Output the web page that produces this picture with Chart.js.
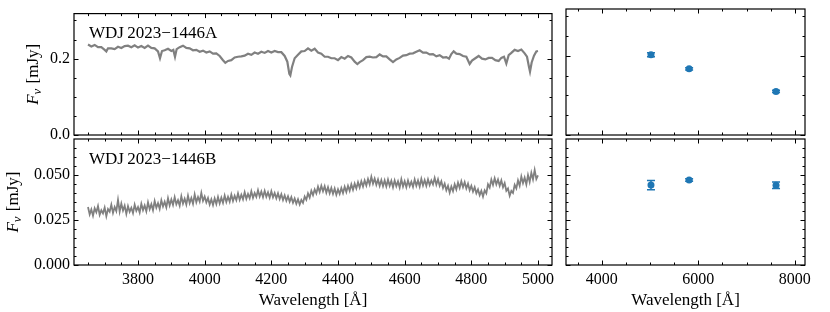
<!DOCTYPE html>
<html>
<head>
<meta charset="utf-8">
<script src="https://cdn.jsdelivr.net/npm/chart.js@4"></script>
<style>
  html, body { margin: 0; padding: 0; background: #fff; }
  #wrap { position: relative; width: 830px; height: 312px; }
  #wrap canvas { position: absolute; left: 0; top: 0; }
</style>
</head>
<body>
<div id="wrap">
  <canvas id="specA" width="830" height="312"></canvas>
  <canvas id="photA" width="830" height="312"></canvas>
  <canvas id="specB" width="830" height="312"></canvas>
  <canvas id="photB" width="830" height="312"></canvas>
</div>
<script>
// spectrum of component A (wavelength in Angstrom, flux in mJy)
const waveA = [3650, 3660, 3670, 3680, 3690, 3700, 3705, 3710, 3720, 3730, 3740, 3750, 3760, 3770, 3780, 3790,
  3800, 3810, 3820, 3830, 3840, 3850, 3860, 3866, 3872, 3880, 3890, 3900, 3906, 3911, 3916, 3925, 3935, 3945,
  3955, 3965, 3975, 3985, 3995, 4005, 4015, 4025, 4035, 4045, 4055, 4062, 4070, 4080, 4090, 4100, 4110, 4120,
  4130, 4140, 4150, 4160, 4170, 4180, 4190, 4200, 4210, 4220, 4230, 4240, 4248, 4254, 4257, 4262, 4270, 4280,
  4290, 4300, 4310, 4320, 4330, 4340, 4350, 4360, 4370, 4380, 4390, 4400, 4410, 4420, 4430, 4440, 4450, 4458,
  4465, 4475, 4485, 4495, 4505, 4515, 4525, 4535, 4545, 4555, 4565, 4575, 4585, 4595, 4605, 4615, 4625, 4635,
  4645, 4655, 4665, 4675, 4685, 4695, 4705, 4715, 4725, 4733, 4740, 4747, 4755, 4765, 4775, 4785, 4795, 4802,
  4812, 4822, 4832, 4842, 4852, 4862, 4872, 4882, 4890, 4898, 4905, 4912, 4920, 4930, 4940, 4950, 4960, 4967,
  4973, 4976, 4981, 4988, 4995, 5000];
const fluxA = [0.237, 0.232, 0.236, 0.230, 0.230, 0.223, 0.219, 0.227, 0.227, 0.225, 0.231, 0.228, 0.233, 0.234, 0.230, 0.235,
  0.229, 0.233, 0.228, 0.234, 0.228, 0.227, 0.219, 0.201, 0.220, 0.222, 0.226, 0.220, 0.223, 0.205, 0.225, 0.230, 0.234, 0.228,
  0.227, 0.222, 0.223, 0.218, 0.221, 0.216, 0.219, 0.213, 0.214, 0.207, 0.196, 0.189, 0.194, 0.196, 0.203, 0.205, 0.206, 0.208,
  0.213, 0.210, 0.216, 0.213, 0.218, 0.215, 0.220, 0.216, 0.220, 0.217, 0.217, 0.207, 0.192, 0.160, 0.156, 0.178, 0.201, 0.210,
  0.219, 0.220, 0.227, 0.221, 0.226, 0.216, 0.213, 0.205, 0.205, 0.201, 0.201, 0.196, 0.204, 0.200, 0.207, 0.203, 0.192, 0.186,
  0.191, 0.196, 0.204, 0.205, 0.203, 0.204, 0.211, 0.206, 0.206, 0.198, 0.191, 0.198, 0.202, 0.208, 0.209, 0.213, 0.214, 0.218,
  0.222, 0.216, 0.216, 0.211, 0.212, 0.206, 0.209, 0.203, 0.204, 0.200, 0.212, 0.219, 0.213, 0.212, 0.207, 0.205, 0.186, 0.195,
  0.201, 0.207, 0.200, 0.198, 0.202, 0.202, 0.196, 0.194, 0.202, 0.205, 0.187, 0.209, 0.215, 0.223, 0.220, 0.224, 0.214, 0.205,
  0.178, 0.166, 0.190, 0.208, 0.219, 0.220];

// spectrum of component B
const waveB = [3650, 3655, 3660, 3665, 3670, 3675, 3680, 3685, 3690, 3695, 3700, 3705, 3710, 3715, 3720, 3725,
  3730, 3735, 3740, 3745, 3750, 3755, 3760, 3765, 3770, 3775, 3780, 3785, 3790, 3795, 3800, 3805, 3810, 3815,
  3820, 3825, 3830, 3835, 3840, 3845, 3850, 3855, 3860, 3865, 3870, 3875, 3880, 3885, 3890, 3895, 3900, 3905,
  3910, 3915, 3920, 3925, 3930, 3935, 3940, 3945, 3950, 3955, 3960, 3965, 3970, 3975, 3980, 3985, 3990, 3995,
  4000, 4005, 4010, 4015, 4020, 4025, 4030, 4035, 4040, 4045, 4050, 4055, 4060, 4065, 4070, 4075, 4080, 4085,
  4090, 4095, 4100, 4105, 4110, 4115, 4120, 4125, 4130, 4135, 4140, 4145, 4150, 4155, 4160, 4165, 4170, 4175,
  4180, 4185, 4190, 4195, 4200, 4205, 4210, 4215, 4220, 4225, 4230, 4235, 4240, 4245, 4250, 4255, 4260, 4265,
  4270, 4275, 4280, 4285, 4290, 4295, 4300, 4305, 4310, 4315, 4320, 4325, 4330, 4335, 4340, 4345, 4350, 4355,
  4360, 4365, 4370, 4375, 4380, 4385, 4390, 4395, 4400, 4405, 4410, 4415, 4420, 4425, 4430, 4435, 4440, 4445,
  4450, 4455, 4460, 4465, 4470, 4475, 4480, 4485, 4490, 4495, 4500, 4505, 4510, 4515, 4520, 4525, 4530, 4535,
  4540, 4545, 4550, 4555, 4560, 4565, 4570, 4575, 4580, 4585, 4590, 4595, 4600, 4605, 4610, 4615, 4620, 4625,
  4630, 4635, 4640, 4645, 4650, 4655, 4660, 4665, 4670, 4675, 4680, 4685, 4690, 4695, 4700, 4705, 4710, 4715,
  4720, 4725, 4730, 4735, 4740, 4745, 4750, 4755, 4760, 4765, 4770, 4775, 4780, 4785, 4790, 4795, 4800, 4805,
  4810, 4815, 4820, 4825, 4830, 4835, 4840, 4845, 4850, 4855, 4860, 4865, 4870, 4875, 4880, 4885, 4890, 4895,
  4900, 4905, 4910, 4915, 4920, 4925, 4930, 4935, 4940, 4945, 4950, 4955, 4960, 4965, 4970, 4975, 4980, 4985,
  4990, 4995, 5000];
const fluxB = [0.0322, 0.0281, 0.0309, 0.0274, 0.0315, 0.0293, 0.0328, 0.0279, 0.0304, 0.0287, 0.0319, 0.0271, 0.0311, 0.0296, 0.0335, 0.0289,
  0.0322, 0.0299, 0.0362, 0.0297, 0.0341, 0.0303, 0.0330, 0.0284, 0.0327, 0.0296, 0.0318, 0.0288, 0.0335, 0.0301, 0.0322, 0.0292, 0.0340, 0.0305,
  0.0331, 0.0298, 0.0348, 0.0310, 0.0338, 0.0304, 0.0355, 0.0318, 0.0344, 0.0312, 0.0360, 0.0325, 0.0352, 0.0320, 0.0371, 0.0331, 0.0364, 0.0334,
  0.0377, 0.0337, 0.0360, 0.0330, 0.0382, 0.0341, 0.0368, 0.0336, 0.0385, 0.0344, 0.0372, 0.0340, 0.0392, 0.0349, 0.0378, 0.0352, 0.0401, 0.0356,
  0.0380, 0.0348, 0.0372, 0.0336, 0.0365, 0.0333, 0.0370, 0.0339, 0.0378, 0.0342, 0.0374, 0.0345, 0.0386, 0.0350, 0.0379, 0.0352, 0.0392, 0.0356,
  0.0385, 0.0360, 0.0398, 0.0362, 0.0390, 0.0365, 0.0404, 0.0368, 0.0395, 0.0371, 0.0410, 0.0373, 0.0400, 0.0378, 0.0416, 0.0380, 0.0408, 0.0377,
  0.0412, 0.0379, 0.0404, 0.0374, 0.0410, 0.0376, 0.0400, 0.0370, 0.0398, 0.0366, 0.0393, 0.0361, 0.0387, 0.0357, 0.0382, 0.0352, 0.0377, 0.0346,
  0.0370, 0.0340, 0.0365, 0.0336, 0.0362, 0.0345, 0.0380, 0.0362, 0.0398, 0.0375, 0.0412, 0.0388, 0.0420, 0.0398, 0.0435, 0.0405, 0.0440, 0.0410,
  0.0438, 0.0402, 0.0432, 0.0398, 0.0428, 0.0395, 0.0425, 0.0390, 0.0420, 0.0395, 0.0428, 0.0400, 0.0435, 0.0405, 0.0440, 0.0412, 0.0448, 0.0418,
  0.0452, 0.0425, 0.0460, 0.0430, 0.0465, 0.0436, 0.0470, 0.0442, 0.0478, 0.0448, 0.0490, 0.0452, 0.0480, 0.0446, 0.0475, 0.0440, 0.0472, 0.0438,
  0.0470, 0.0436, 0.0474, 0.0440, 0.0468, 0.0432, 0.0470, 0.0438, 0.0465, 0.0430, 0.0476, 0.0436, 0.0466, 0.0432, 0.0470, 0.0438, 0.0463, 0.0434,
  0.0475, 0.0440, 0.0470, 0.0436, 0.0478, 0.0442, 0.0472, 0.0440, 0.0476, 0.0444, 0.0470, 0.0448, 0.0484, 0.0446, 0.0476, 0.0440, 0.0465, 0.0428,
  0.0452, 0.0415, 0.0440, 0.0402, 0.0436, 0.0410, 0.0448, 0.0420, 0.0458, 0.0428, 0.0465, 0.0432, 0.0460, 0.0425, 0.0452, 0.0415, 0.0440, 0.0408,
  0.0432, 0.0398, 0.0420, 0.0388, 0.0412, 0.0380, 0.0415, 0.0398, 0.0448, 0.0430, 0.0475, 0.0445, 0.0482, 0.0448, 0.0475, 0.0440, 0.0470, 0.0432,
  0.0455, 0.0412, 0.0425, 0.0385, 0.0412, 0.0400, 0.0445, 0.0425, 0.0470, 0.0440, 0.0492, 0.0455, 0.0485, 0.0448, 0.0500, 0.0462, 0.0512, 0.0475,
  0.0528, 0.0478, 0.0498];

// photometry
const photWave = [5020, 5810, 7610];
const photFluxA = [0.2025, 0.167, 0.110];
const photErrA = [0.005, 0.003, 0.003];
const photFluxB = [0.0444, 0.0472, 0.0443];
const photErrB = [0.0026, 0.0007, 0.0018];

// ticks
const specMajor = [3800, 4000, 4200, 4400, 4600, 4800, 5000];
const specMinor = [3650, 3700, 3750, 3850, 3900, 3950, 4050, 4100, 4150, 4250, 4300, 4350, 4450, 4500, 4550,
  4650, 4700, 4750, 4850, 4900, 4950];
const photMajor = [4000, 6000, 8000];
const photMinor = [3500, 4500, 5000, 5500, 6500, 7000, 7500];
const yMajorA = [0.0, 0.2];
const yMinorA = [0.05, 0.1, 0.15, 0.25, 0.3];
const yMajorB = [0.0, 0.025, 0.05];
const yMinorB = [0.005, 0.01, 0.015, 0.02, 0.03, 0.035, 0.04, 0.045, 0.055, 0.06, 0.065];

const SERIF = "'Liberation Serif', 'Times New Roman', serif";
const W = 830, H = 312;

const mplFrame = {
  id: 'mplFrame',
  afterDatasetsDraw(chart, args, o) {
    const {ctx, chartArea: a, scales} = chart;
    ctx.save();

    // error bars
    if (o.err) {
      ctx.strokeStyle = '#1f77b4';
      ctx.lineWidth = 1.5;
      o.err.x.forEach((xv, i) => {
        const px = scales.x.getPixelForValue(xv);
        const y1 = scales.y.getPixelForValue(o.err.y[i] - o.err.e[i]);
        const y2 = scales.y.getPixelForValue(o.err.y[i] + o.err.e[i]);
        ctx.beginPath();
        ctx.moveTo(px, y1); ctx.lineTo(px, y2);
        ctx.moveTo(px - 4, y1); ctx.lineTo(px + 4, y1);
        ctx.moveTo(px - 4, y2); ctx.lineTo(px + 4, y2);
        ctx.stroke();
      });
    }

    ctx.strokeStyle = '#000';
    ctx.lineWidth = 1;
    const seg = (x1, y1, x2, y2) => { ctx.beginPath(); ctx.moveTo(x1, y1); ctx.lineTo(x2, y2); ctx.stroke(); };
    const xt = (vals, len) => vals.forEach(v => {
      const px = Math.round(scales.x.getPixelForValue(v)) + 0.5;
      if (px < a.left || px > a.right) return;
      seg(px, a.bottom, px, a.bottom - len);
      seg(px, a.top, px, a.top + len);
    });
    const yt = (vals, len) => vals.forEach(v => {
      const py = Math.round(scales.y.getPixelForValue(v)) + 0.5;
      if (py < a.top - 1 || py > a.bottom + 1) return;
      seg(a.left, py, a.left + len, py);
      seg(a.right, py, a.right - len, py);
    });
    xt(o.xMajor, 4.5); xt(o.xMinor, 2.5);
    yt(o.yMajor, 4.5); yt(o.yMinor, 2.5);
    ctx.lineWidth = 1.2;
    ctx.strokeRect(a.left, a.top, a.right - a.left, a.bottom - a.top);

    // name in the corner
    if (o.name) {
      ctx.fillStyle = '#000';
      ctx.font = '17px ' + SERIF;
      ctx.textAlign = 'left';
      ctx.textBaseline = 'alphabetic';
      ctx.fillText(o.name, a.left + 15, a.top + 24.5);
    }

    // y axis label F_nu [mJy]
    if (o.ylabelX) {
      const cy = (a.top + a.bottom) / 2;
      ctx.translate(o.ylabelX, cy);
      ctx.rotate(-Math.PI / 2);
      ctx.fillStyle = '#000';
      ctx.textBaseline = 'middle';
      ctx.textAlign = 'left';
      const fI = 'italic 17px ' + SERIF, fS = 'italic 13px ' + SERIF, fR = '17px ' + SERIF;
      ctx.font = fI; const w1 = ctx.measureText('F').width;
      ctx.font = fS; const w2 = ctx.measureText('\u03bd').width;
      ctx.font = fR; const w3 = ctx.measureText(' [mJy]').width;
      let x0 = -(w1 + w2 + 1 + w3) / 2;
      ctx.font = fI; ctx.fillText('F', x0, 0);
      ctx.font = fS; ctx.fillText('\u03bd', x0 + w1, 4);
      ctx.font = fR; ctx.fillText(' [mJy]', x0 + w1 + w2 + 1, 0);
    }
    ctx.restore();
  }
};

function makePanel(id, p) {
  const fmtY = p.yDigits;
  new Chart(document.getElementById(id), {
    type: 'scatter',
    data: { datasets: p.datasets },
    plugins: [mplFrame],
    options: {
      responsive: false,
      animation: false,
      events: [],
      layout: { padding: { left: 0, top: p.area.top, right: W - p.area.right, bottom: 0 } },
      plugins: {
        legend: { display: false },
        tooltip: { enabled: false },
        mplFrame: {
          xMajor: p.xMajor, xMinor: p.xMinor, yMajor: p.yMajor, yMinor: p.yMinor,
          name: p.name, ylabelX: p.ylabelX, err: p.err
        }
      },
      scales: {
        x: {
          type: 'linear',
          min: p.xMin, max: p.xMax,
          afterFit: s => { s.height = H - p.area.bottom; },
          afterBuildTicks: s => { s.ticks = p.xMajor.map(v => ({ value: v })); },
          grid: { display: false, drawTicks: false },
          border: { display: false },
          ticks: {
            display: p.showX,
            padding: 5,
            maxRotation: 0,
            autoSkip: false,
            color: '#000',
            font: { family: SERIF, size: 16 },
            callback: v => String(v)
          },
          title: {
            display: p.showX,
            text: 'Wavelength [\u00c5]',
            color: '#000',
            font: { family: SERIF, size: 17 },
            padding: { top: 0, bottom: 1 }
          }
        },
        y: {
          type: 'linear',
          min: p.yMin, max: p.yMax,
          afterFit: s => { s.width = p.area.left; },
          afterBuildTicks: s => { s.ticks = p.yMajor.map(v => ({ value: v })); },
          grid: { display: false, drawTicks: false },
          border: { display: false },
          ticks: {
            display: p.showY,
            padding: 4,
            color: '#000',
            font: { family: SERIF, size: 16 },
            callback: v => Number(v).toFixed(fmtY)
          }
        }
      }
    }
  });
}

const toXY = (xs, ys) => xs.map((x, i) => ({ x: x, y: ys[i] }));

const specStyle = { showLine: true, borderColor: '#808080', borderWidth: 1.8, pointRadius: 0, tension: 0 };
const photStyle = { showLine: false, pointRadius: 3.5, pointBackgroundColor: '#1f77b4', pointBorderColor: '#1f77b4', pointBorderWidth: 0 };

makePanel('specA', {
  area: { left: 74, right: 552, top: 9, bottom: 135 },
  datasets: [Object.assign({ data: toXY(waveA, fluxA) }, specStyle, { borderWidth: 2.2 })],
  xMin: 3608, xMax: 5042, xMajor: specMajor, xMinor: specMinor,
  yMin: 0, yMax: 0.318, yMajor: yMajorA, yMinor: yMinorA, yDigits: 1,
  showX: false, showY: true, ylabelX: 34, name: 'WDJ\u20092023\u22121446A'
});

makePanel('specB', {
  area: { left: 74, right: 552, top: 139, bottom: 265 },
  datasets: [Object.assign({ data: toXY(waveB, fluxB) }, specStyle)],
  xMin: 3608, xMax: 5042, xMajor: specMajor, xMinor: specMinor,
  yMin: 0, yMax: 0.07, yMajor: yMajorB, yMinor: yMinorB, yDigits: 3,
  showX: true, showY: true, ylabelX: 14, name: 'WDJ\u20092023\u22121446B'
});

makePanel('photA', {
  area: { left: 566, right: 805, top: 9, bottom: 135 },
  datasets: [Object.assign({ data: toXY(photWave, photFluxA) }, photStyle)],
  err: { x: photWave, y: photFluxA, e: photErrA },
  xMin: 3260, xMax: 8210, xMajor: photMajor, xMinor: photMinor,
  yMin: 0, yMax: 0.318, yMajor: yMajorA, yMinor: yMinorA, yDigits: 1,
  showX: false, showY: false
});

makePanel('photB', {
  area: { left: 566, right: 805, top: 139, bottom: 265 },
  datasets: [Object.assign({ data: toXY(photWave, photFluxB) }, photStyle)],
  err: { x: photWave, y: photFluxB, e: photErrB },
  xMin: 3260, xMax: 8210, xMajor: photMajor, xMinor: photMinor,
  yMin: 0, yMax: 0.07, yMajor: yMajorB, yMinor: yMinorB, yDigits: 3,
  showX: true, showY: false
});
</script>
</body>
</html>
